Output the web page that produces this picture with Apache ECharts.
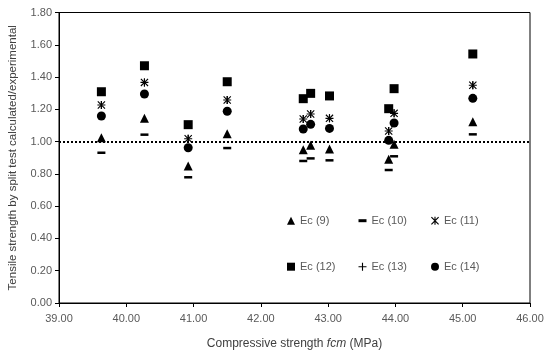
<!DOCTYPE html>
<html><head><meta charset="utf-8">
<script src="https://cdn.jsdelivr.net/npm/echarts@6/dist/echarts.min.js"></script>
<style>html,body{margin:0;padding:0;background:#fff}#c{width:550px;height:353px}</style>
</head><body><div id="c"></div>
<script>
// Data
const fcm    = [39.63, 40.27, 40.92, 41.50, 42.63, 42.74, 43.02, 43.90, 43.98, 45.15];
const ec9    = [1.024, 1.144, 0.849, 1.049, 0.950, 0.977, 0.954, 0.890, 0.983, 1.123];
const ec10   = [0.931, 1.043, 0.779, 0.960, 0.880, 0.896, 0.884, 0.824, 0.909, 1.045];
const ec11   = [1.227, 1.367, 1.018, 1.258, 1.140, 1.171, 1.144, 1.066, 1.175, 1.349];
const ec12   = [1.309, 1.470, 1.105, 1.371, 1.266, 1.299, 1.283, 1.204, 1.328, 1.543];
const ec13   = [1.227, 1.367, 1.018, 1.258, 1.140, 1.171, 1.144, 1.066, 1.175, 1.349];
const ec14   = [1.159, 1.295, 0.962, 1.188, 1.078, 1.107, 1.082, 1.008, 1.115, 1.268];
const names  = ['Ec (9)', 'Ec (10)', 'Ec (11)', 'Ec (12)', 'Ec (13)', 'Ec (14)'];
const refLine = 1.0;

const STAR = 'path://M4.3 0L5.7 0L5.7 10L4.3 10ZM0 1L1 0L10 9L9 10ZM9 0L10 1L1 10L0 9Z';
const PLUS = 'path://M4.3 0L5.7 0L5.7 10L4.3 10ZM0 4.3L10 4.3L10 5.7L0 5.7Z';

const pair = arr => fcm.map((x, i) => [x, arr[i]]);
const ser = (name, arr, symbol, size) => ({
  name, type: 'scatter', data: pair(arr), symbol, symbolSize: size,
  itemStyle: { color: '#000', opacity: 1 }, emphasis: { disabled: true }
});

const series = [
  ser(names[0], ec9, 'triangle', 9),
  ser(names[1], ec10, 'rect', [8, 2.5]),
  ser(names[2], ec11, STAR, 8),
  ser(names[3], ec12, 'rect', 9),
  ser(names[4], ec13, PLUS, 8),
  ser(names[5], ec14, 'circle', 9)
];
series[0].markLine = {
  silent: true, symbol: 'none', label: { show: false },
  lineStyle: { color: '#000', type: [2, 2], width: 2 },
  data: [{ yAxis: refLine }]
};

const lg = (name, icon, left, top, w, h) => ({
  data: [{ name, icon }], left, top, padding: 0, itemWidth: w, itemHeight: h,
  selectedMode: false,
  itemStyle: { color: '#000' },
  textStyle: { fontSize: 11, color: '#595959', fontFamily: 'Liberation Sans', lineHeight: 14 }
});

const chart = echarts.init(document.getElementById('c'), null, { renderer: 'canvas' });
chart.setOption({
  animation: false,
  grid: { left: 59, right: 20, top: 12.5, bottom: 50, show: true, borderColor: '#000', borderWidth: 1,
          containLabel: false, outerBoundsMode: 'none' },
  xAxis: {
    type: 'value', min: 39, max: 46, interval: 1,
    axisLine: { onZero: false, lineStyle: { color: '#000' } },
    axisTick: { show: true, length: 4, lineStyle: { color: '#000' } },
    splitLine: { show: false },
    axisLabel: { formatter: v => v.toFixed(2), fontSize: 11, color: '#595959', fontFamily: 'Liberation Sans', margin: 10 },
    name: '{a|Compressive strength }{b|fcm}{a| (MPa)}', nameLocation: 'middle', nameGap: 35,
    nameTextStyle: { rich: { a: { fontSize: 12, color: '#404040', fontFamily: 'Liberation Sans' },
                             b: { fontSize: 12, color: '#404040', fontFamily: 'Liberation Sans', fontStyle: 'italic' } } }
  },
  yAxis: {
    type: 'value', min: 0, max: 1.8, interval: 0.2,
    axisLine: { show: true, lineStyle: { color: '#000' } },
    axisTick: { show: true, length: 4, lineStyle: { color: '#000' } },
    splitLine: { show: false },
    axisLabel: { formatter: v => v.toFixed(2), fontSize: 11, color: '#595959', fontFamily: 'Liberation Sans', margin: 7 },
    name: 'Tensile strength by split test calculated/experimental', nameLocation: 'middle', nameGap: 40,
    nameTextStyle: { fontSize: 11.5, color: '#404040', fontFamily: 'Liberation Sans' }
  },
  legend: [
    lg(names[0], 'triangle', 287, 213.7, 8, 8),
    lg(names[1], 'rect', 358.5, 213.7, 8, 3),
    lg(names[2], STAR, 431, 213.7, 8, 8),
    lg(names[3], 'rect', 287, 259.7, 8, 8),
    lg(names[4], PLUS, 358.5, 259.7, 8, 8),
    lg(names[5], 'circle', 431, 259.7, 8, 8)
  ],
  series
});
</script></body></html>
